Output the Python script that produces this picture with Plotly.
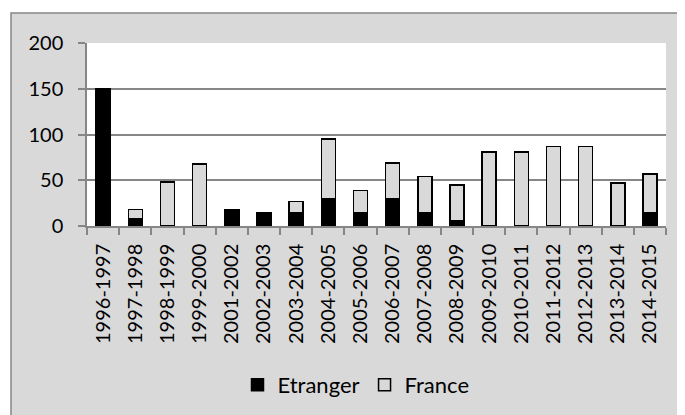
import plotly.graph_objects as go

categories = ["1996-1997", "1997-1998", "1998-1999", "1999-2000", "2001-2002",
              "2002-2003", "2003-2004", "2004-2005", "2005-2006", "2006-2007",
              "2007-2008", "2008-2009", "2009-2010", "2010-2011", "2011-2012",
              "2012-2013", "2013-2014", "2014-2015"]
etranger = [150, 8, 0, 0, 18, 15, 15, 30, 15, 30, 15, 6, 0, 0, 0, 0, 0, 15]
france = [0, 10, 48, 68, 0, 0, 12, 65, 24, 39, 39, 39, 81, 81, 87, 87, 47, 42]
y_ticks = [0, 50, 100, 150, 200]

FONT = "Lato"
OFF = 8  # default body margin of the html page
WIN_W, WIN_H = 685, 415
W, H = WIN_W - OFF, WIN_H - OFF
# plot area in window pixels
PX0, PX1, PY0, PY1 = 87, 666, 43, 226
L, T = PX0 - OFF, PY0 - OFF
R, B = W - (PX1 - OFF), H - (PY1 - OFF)
pw = PX1 - PX0
ph = PY1 - PY0

def px_x(px):
    return (px - PX0) / pw

def px_y(py):
    return (PY1 - py) / ph

fig = go.Figure()
fig.add_trace(go.Bar(name="Etranger", x=categories, y=etranger,
                     marker=dict(color="#000000", line=dict(color="#000000", width=1.5))))
fig.add_trace(go.Bar(name="France", x=categories, y=france,
                     marker=dict(color="#d9d9d9", line=dict(color="#000000", width=1.5))))

fig.update_layout(
    width=W, height=H,
    margin=dict(l=L, r=R, t=T, b=B, autoexpand=False),
    barmode="stack", bargap=0.565,
    paper_bgcolor="#ffffff", plot_bgcolor="rgba(0,0,0,0)",
    font=dict(family=FONT, color="#000000", size=22),
    showlegend=True,
    legend=dict(orientation="h", x=px_x(356), xanchor="center", y=px_y(385), yanchor="middle",
                font=dict(family=FONT, size=22, color="#000000"),
                bgcolor="rgba(0,0,0,0)", traceorder="normal", itemwidth=30),
    shapes=[
        dict(type="rect", xref="paper", yref="paper", layer="below",
             x0=px_x(11), x1=px_x(700), y0=px_y(430), y1=px_y(13),
             fillcolor="#d9d9d9", line=dict(color="#878787", width=1.5)),
        dict(type="rect", xref="paper", yref="paper", layer="below",
             x0=0, x1=1, y0=0, y1=1, fillcolor="#ffffff", line=dict(width=0)),
    ],
)
fig.update_yaxes(range=[0, 200], tickvals=y_ticks, showgrid=True, gridcolor="#868686", gridwidth=1.5,
                 showline=True, linecolor="#868686", linewidth=1.5, automargin=False,
                 ticks="outside", ticklen=7, tickcolor="#868686", tickwidth=1.5,
                 ticklabelstandoff=11, zeroline=False,
                 tickfont=dict(family=FONT, size=20, color="#000000"))
fig.update_xaxes(showline=True, linecolor="#868686", linewidth=1.5, automargin=False,
                 ticks="outside", ticklen=7, tickcolor="#868686", tickwidth=1.5,
                 tickson="boundaries", tickangle=-90, ticklabelstandoff=8,
                 tickfont=dict(family=FONT, size=20, color="#000000"))

fig.write_html("out.html")
